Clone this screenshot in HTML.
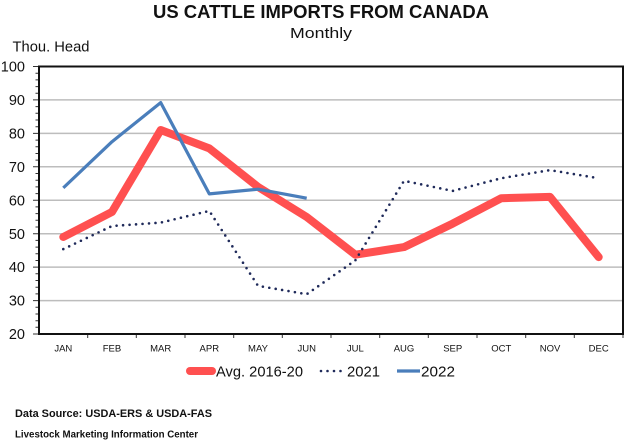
<!DOCTYPE html>
<html><head><meta charset="utf-8"><style>
html,body{margin:0;padding:0;background:#fff;}
svg{display:block;}
text{font-family:"Liberation Sans",sans-serif;fill:#111;}
</style></head><body>
<svg width="629" height="442" viewBox="0 0 629 442" xmlns="http://www.w3.org/2000/svg">
<rect width="629" height="442" fill="#fff"/>
<text x="321" y="18" font-size="18" font-weight="bold" text-anchor="middle" textLength="336" lengthAdjust="spacingAndGlyphs">US CATTLE IMPORTS FROM CANADA</text>
<text x="321" y="38" font-size="15" text-anchor="middle" textLength="62" lengthAdjust="spacingAndGlyphs">Monthly</text>
<text x="12.5" y="51.5" font-size="15" textLength="77" lengthAdjust="spacingAndGlyphs">Thou. Head</text>
<!-- gridlines -->
<g stroke="#bdbdbd" stroke-width="1.5">
<line x1="39" x2="623" y1="99.9" y2="99.9"/>
<line x1="39" x2="623" y1="133.4" y2="133.4"/>
<line x1="39" x2="623" y1="166.8" y2="166.8"/>
<line x1="39" x2="623" y1="200.2" y2="200.2"/>
<line x1="39" x2="623" y1="233.7" y2="233.7"/>
<line x1="39" x2="623" y1="267.1" y2="267.1"/>
<line x1="39" x2="623" y1="300.6" y2="300.6"/>
</g>
<!-- y ticks -->
<g stroke="#333" stroke-width="1">
<path d="M33 66.5H39M33 99.9H39M33 133.4H39M33 166.8H39M33 200.2H39M33 233.7H39M33 267.1H39M33 300.6H39M33 334H39"/>
<path d="M35.5 73.2H39M35.5 79.9H39M35.5 86.6H39M35.5 93.3H39M35.5 106.6H39M35.5 113.3H39M35.5 120H39M35.5 126.7H39M35.5 140.1H39M35.5 146.8H39M35.5 153.5H39M35.5 160.1H39M35.5 173.5H39M35.5 180.2H39M35.5 186.9H39M35.5 193.6H39M35.5 206.9H39M35.5 213.6H39M35.5 220.3H39M35.5 227H39M35.5 240.4H39M35.5 247.1H39M35.5 253.8H39M35.5 260.5H39M35.5 273.8H39M35.5 280.5H39M35.5 287.2H39M35.5 293.9H39M35.5 307.3H39M35.5 314H39M35.5 320.7H39M35.5 327.3H39"/>
<path d="M87.7 334V338M136.3 334V338M185 334V338M233.7 334V338M282.3 334V338M331 334V338M379.7 334V338M428.3 334V338M477 334V338M525.7 334V338M574.3 334V338M623 334V338"/>
</g>
<!-- frame -->
<rect x="39" y="66.5" width="584" height="267.5" fill="none" stroke="#111" stroke-width="2"/>
<!-- y labels -->
<g font-size="14.5" text-anchor="end">
<text x="25" y="71.5">100</text>
<text x="25" y="105">90</text>
<text x="25" y="138.5">80</text>
<text x="25" y="172">70</text>
<text x="25" y="205.3">60</text>
<text x="25" y="238.8">50</text>
<text x="25" y="272.2">40</text>
<text x="25" y="305.7">30</text>
<text x="25" y="339">20</text>
</g>
<!-- x labels -->
<g font-size="9.5" text-anchor="middle" fill="#222">
<text x="63.3" y="351.5">JAN</text>
<text x="112" y="351.5">FEB</text>
<text x="160.7" y="351.5">MAR</text>
<text x="209.3" y="351.5">APR</text>
<text x="258" y="351.5">MAY</text>
<text x="306.7" y="351.5">JUN</text>
<text x="355.3" y="351.5">JUL</text>
<text x="404" y="351.5">AUG</text>
<text x="452.7" y="351.5">SEP</text>
<text x="501.3" y="351.5">OCT</text>
<text x="550" y="351.5">NOV</text>
<text x="598.7" y="351.5">DEC</text>
</g>
<!-- series -->
<polyline fill="none" stroke="#ff5050" stroke-width="8" stroke-linecap="round" stroke-linejoin="round"
points="63.3,237 112,211.9 160.7,130 209.3,148.4 258,186.9 306.7,217 355.3,254.7 404,247.1 452.7,223.6 501.3,198.2 550,196.9 598.7,257.1"/>
<polyline fill="none" stroke="#1f2a5a" stroke-width="2.6" stroke-linecap="round" stroke-dasharray="0 6.5"
points="63.3,249.1 112,226 160.7,222.6 209.3,210.9 258,285.8 306.7,294.2 355.3,260.4 404,180.8 452.7,190.9 501.3,178.2 550,170.1 598.7,178.2"/>
<polyline fill="none" stroke="#4a7ebb" stroke-width="3.2" stroke-linejoin="round"
points="63.3,187.9 112,141.7 160.7,102.6 209.3,193.9 258,189.2 306.7,198.2"/>
<!-- legend -->
<line x1="190" y1="371" x2="212" y2="371" stroke="#ff5050" stroke-width="8" stroke-linecap="round"/>
<text x="216" y="376.5" font-size="15" textLength="87" lengthAdjust="spacingAndGlyphs">Avg. 2016-20</text>
<line x1="321" y1="371" x2="345" y2="371" stroke="#1f2a5a" stroke-width="2.6" stroke-linecap="round" stroke-dasharray="0 6.5"/>
<text x="347" y="376.5" font-size="15" textLength="33" lengthAdjust="spacingAndGlyphs">2021</text>
<line x1="397" y1="371" x2="420" y2="371" stroke="#4a7ebb" stroke-width="3.2"/>
<text x="421" y="376.5" font-size="15" textLength="34" lengthAdjust="spacingAndGlyphs">2022</text>
<!-- footer -->
<text x="15" y="417" font-size="11" font-weight="bold" textLength="197" lengthAdjust="spacingAndGlyphs">Data Source:  USDA-ERS &amp; USDA-FAS</text>
<text x="15" y="437.5" font-size="10" font-weight="bold" textLength="183" lengthAdjust="spacingAndGlyphs">Livestock Marketing Information Center</text>
</svg>
</body></html>
